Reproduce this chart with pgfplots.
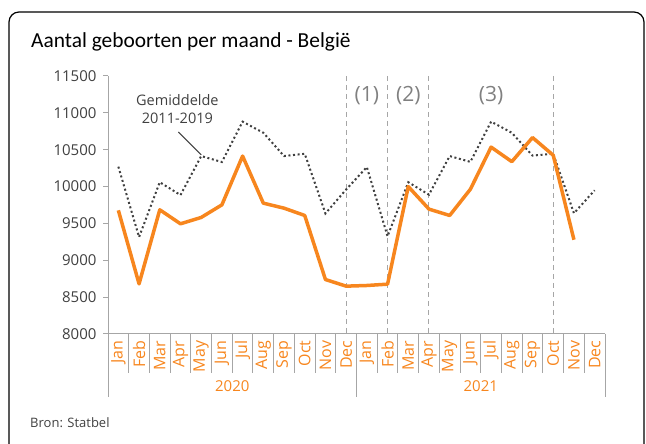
\documentclass[border=0pt]{standalone}
\usepackage{pgfplots}
\pgfplotsset{compat=1.18}
\usepackage{fontspec}
\setmainfont{Open Sans}
\newfontfamily\titlefont{Carlito}
\definecolor{orangeL}{RGB}{247,134,30}
\definecolor{dgrey}{RGB}{64,64,64}
\definecolor{lgrey}{RGB}{166,166,166}
\definecolor{mgrey}{RGB}{128,128,128}
\begin{document}
\begin{tikzpicture}[x=1pt,y=1pt]
\clip (0,0) rectangle (646,444);
\draw[line width=1.2pt, rounded corners=10pt] (9,-30) -- (9,432) -- (644,432) -- (644,-30);
\node[anchor=base west, inner sep=0pt, font=\titlefont\fontsize{21.4}{23}\selectfont] at (31,396) {Aantal geboorten per maand - België};
\node[anchor=base west, inner sep=0pt, text=dgrey, font=\fontsize{13}{14}\selectfont] at (30,16) {Bron: Statbel};
\begin{axis}[
  at={(108pt,110pt)}, anchor=south west,
  scale only axis, width=497pt, height=258pt,
  xmin=-0.5, xmax=23.5, ymin=8000, ymax=11500,
  axis lines=left, axis line style={-, draw=lgrey, line width=1pt},
  clip=false,
  xtick={0,...,23},
  xticklabels={Jan,Feb,Mar,Apr,May,Jun,Jul,Aug,Sep,Oct,Nov,Dec,Jan,Feb,Mar,Apr,May,Jun,Jul,Aug,Sep,Oct,Nov,Dec},
  xtick style={draw=none},
  xticklabel style={rotate=90, anchor=east, text=orangeL, font=\fontsize{16}{16}\selectfont, inner sep=1.5pt},
  ytick={8000,8500,...,11500},
  ytick style={draw=lgrey, line width=1pt},
  tick align=outside, major tick length=5pt,
  yticklabel style={text=dgrey, font=\fontsize{15}{15}\selectfont, xshift=-3pt},
  /pgf/number format/assume math mode=true,
  /pgf/number format/1000 sep={},
  scaled y ticks=false,
]
% month separators
\pgfplotsinvokeforeach{-0.5,0.5,...,23.5}{
  \draw[lgrey, line width=1pt] (axis cs:#1,8000) -- (axis cs:#1,7471);
}
\draw[lgrey, line width=1pt] (axis cs:-0.5,8000) -- (axis cs:-0.5,7145);
\draw[lgrey, line width=1pt] (axis cs:11.5,8000) -- (axis cs:11.5,7145);
\draw[lgrey, line width=1pt] (axis cs:23.5,8000) -- (axis cs:23.5,7145);
\node[text=orangeL, font=\fontsize{15}{15}\selectfont] at (axis cs:5.5,7295) {2020};
\node[text=orangeL, font=\fontsize{15}{15}\selectfont] at (axis cs:17.5,7295) {2021};
% dashed verticals
\pgfplotsinvokeforeach{11,13,15,21}{
  \draw[lgrey, line width=1pt, dash pattern=on 5pt off 4pt] (axis cs:#1,11500) -- (axis cs:#1,8000);
}
\node[text=mgrey, font=\fontsize{21}{21}\selectfont] at (axis cs:12,11230) {(1)};
\node[text=mgrey, font=\fontsize{21}{21}\selectfont] at (axis cs:14,11230) {(2)};
\node[text=mgrey, font=\fontsize{21}{21}\selectfont] at (axis cs:18,11230) {(3)};
% average
\addplot[dgrey, line width=2pt, dash pattern=on 2pt off 2.6pt] coordinates {
(0,10270) (1,9315) (2,10059) (3,9885) (4,10414) (5,10333) (6,10881) (7,10730) (8,10414) (9,10445) (10,9635) (11,9960)
(12,10265) (13,9325) (14,10059) (15,9890) (16,10414) (17,10335) (18,10881) (19,10730) (20,10420) (21,10445) (22,9638) (23,9950)
};
% births
\addplot[orangeL, line width=3.5pt, line join=round] coordinates {
(0,9678) (1,8680) (2,9685) (3,9495) (4,9581) (5,9752) (6,10414) (7,9775) (8,9707) (9,9608) (10,8739) (11,8649)
(12,8658) (13,8676) (14,10000) (15,9694) (16,9608) (17,9964) (18,10535) (19,10338) (20,10665) (21,10425) (22,9279)
};
\node[text=dgrey, font=\fontsize{14.5}{17.5}\selectfont, align=center] at (axis cs:2.85,11050) {Gemiddelde\\2011-2019};
\draw[dgrey, line width=1pt] (axis cs:2.9,10740) -- (axis cs:4,10430);
\end{axis}
\end{tikzpicture}
\end{document}
